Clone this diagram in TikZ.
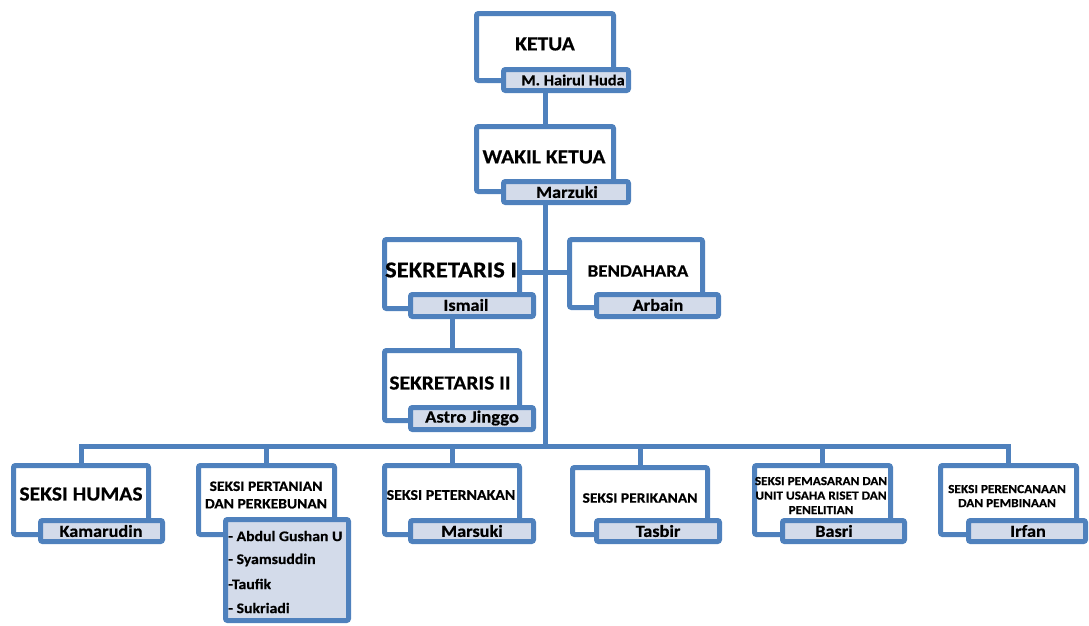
\documentclass[tikz,border=0pt]{standalone}
\usepackage{fontspec}
\setmainfont{Carlito}[FakeStretch=1.08, BoldFeatures={FakeStretch=1.08, FakeBold=0.5}]
\usetikzlibrary{fit,backgrounds}
\definecolor{blu}{RGB}{79,129,189}
\definecolor{namefill}{RGB}{211,219,234}
\tikzset{
  mainbox/.style={draw=blu, line width=5pt, fill=white, rounded corners=2pt, inner sep=0pt},
  namebox/.style={draw=blu, line width=5pt, fill=namefill, rounded corners=2pt, inner sep=0pt},
  conn/.style={draw=blu, line width=5pt},
  ttl/.style={font=\bfseries, inner sep=0pt, align=center},
  nm/.style={font=\bfseries\fontsize{16.9}{18}\selectfont, inner sep=0pt},
}
\begin{document}
\begin{tikzpicture}[x=1pt,y=-1pt]
\useasboundingbox (0,0) rectangle (1089,625);
% main boxes (centerlines = outer edges inset by 2.5)
\node[mainbox, fit={(476.5,13.5)(613.5,80.5)}] (k) {};
\node[mainbox, fit={(476.5,126.5)(613.5,191.5)}] (w) {};
\node[mainbox, fit={(384.5,239.5)(519.5,308.5)}] (s1) {};
\node[mainbox, fit={(569.5,239.5)(702.5,307.5)}] (bd) {};
\node[mainbox, fit={(384.5,350.5)(519.5,420.5)}] (s2) {};
\node[mainbox, fit={(13.5,465.5)(148.5,534.5)}] (hu) {};
\node[mainbox, fit={(198.5,465.5)(334.5,534.5)}] (pt) {};
\node[mainbox, fit={(384.5,465.5)(519.5,534.5)}] (pk) {};
\node[mainbox, fit={(572.5,467.5)(707.5,534.5)}] (pi) {};
\node[mainbox, fit={(754.5,465.5)(890.5,534.5)}] (pm) {};
\node[mainbox, fit={(940.5,465.5)(1076.5,534.5)}] (pr) {};
% name boxes
\node[namebox, fit={(503.5,69.5)(628.5,90.5)}] (kn) {};
\node[namebox, fit={(503.5,181.5)(628.5,202.5)}] (wn) {};
\node[namebox, fit={(410.5,294.5)(533.5,316.5)}] (s1n) {};
\node[namebox, fit={(596.5,294.5)(718.5,316.5)}] (bdn) {};
\node[namebox, fit={(410.5,407.5)(533.5,429.5)}] (s2n) {};
\node[namebox, fit={(40.5,520.5)(162.5,541.5)}] (hun) {};
\node[namebox, fit={(225.5,519.5)(348.5,620.5)}] (ptn) {};
\node[namebox, fit={(410.5,520.5)(533.5,541.5)}] (pkn) {};
\node[namebox, fit={(596.5,520.5)(719.5,541.5)}] (pin) {};
\node[namebox, fit={(782.5,520.5)(904.5,541.5)}] (pmn) {};
\node[namebox, fit={(968.5,520.5)(1085.5,541.5)}] (prn) {};
% connectors
\coordinate (bar) at (545,446);
\begin{scope}[on background layer]
\draw[conn] (k.south) -- (w.north);
\draw[conn] (w.south) -- (bar);
\draw[conn] (s1.east |- 0,272) -- (bd.west |- 0,272);
\draw[conn] (s1.south) -- (s2.north);
\draw[conn] (bar) -| (hu.north);
\draw[conn] (bar) -| (pt.north);
\draw[conn] (bar) -| (pk.north);
\draw[conn] (bar) -| (pi.north);
\draw[conn] (bar) -| (pm.north);
\draw[conn] (bar) -| (pr.north);
\end{scope}
% titles
\node[ttl, font=\bfseries\fontsize{20}{22}\selectfont] (kt) at (545,44) {KETUA};
\node[ttl, font=\bfseries\fontsize{20}{22}\selectfont] (wt) at (544,157) {WAKIL KETUA};
\node[ttl, font=\bfseries\fontsize{22.7}{24}\selectfont] (s1t) at (451,270) {SEKRETARIS I};
\node[ttl, font=\bfseries\fontsize{17.5}{19}\selectfont] (bdt) at (638,271) {BENDAHARA};
\node[ttl, font=\bfseries\fontsize{19.9}{22}\selectfont] (s2t) at (450,383) {SEKRETARIS II};
\node[ttl, font=\bfseries\fontsize{20}{22}\selectfont] (hut) at (81,494) {SEKSI HUMAS};
\node[ttl, font=\bfseries\fontsize{14.4}{17.5}\selectfont] (ptt) at (266,495) {SEKSI PERTANIAN\\DAN PERKEBUNAN};
\node[ttl, font=\bfseries\fontsize{14.7}{16}\selectfont] (pkt) at (451,495) {SEKSI PETERNAKAN};
\node[ttl, font=\bfseries\fontsize{14.4}{16}\selectfont] (pit) at (640,498) {SEKSI PERIKANAN};
\node[ttl, font=\bfseries\fontsize{12.3}{14.5}\selectfont] (pmt) at (821,495.5) {SEKSI PEMASARAN DAN\\UNIT USAHA RISET DAN\\PENELITIAN};
\node[ttl, font=\bfseries\fontsize{12.3}{14}\selectfont] (prt) at (1007,496) {SEKSI PERENCANAAN\\DAN PEMBINAAN};
% names
\node[nm, font=\bfseries\fontsize{15.2}{16}\selectfont] (knt) at (573,80) {M. Hairul Huda};
\node[nm] (wnt) at (567,192) {Marzuki};
\node[nm] (s1nt) at (466,305) {Ismail};
\node[nm] (bdnt) at (658,305) {Arbain};
\node[nm, font=\bfseries\fontsize{17.2}{18}\selectfont] (s2nt) at (472,418) {Astro Jinggo};
\node[nm] (hunt) at (101,531) {Kamarudin};
\node[nm] (pknt) at (472,531) {Marsuki};
\node[nm] (pint) at (658,531) {Tasbir};
\node[nm] (pmnt) at (834,531) {Basri};
\node[nm] (prnt) at (1028,531) {Irfan};
\node[nm, font=\bfseries\fontsize{14.6}{16}\selectfont, anchor=west] (m1) at (228,536) {- Abdul Gushan U};
\node[nm, font=\bfseries\fontsize{14.6}{16}\selectfont, anchor=west] (m2) at (228,560) {- Syamsuddin};
\node[nm, font=\bfseries\fontsize{14.6}{16}\selectfont, anchor=west] (m3) at (228,584) {-Taufik};
\node[nm, font=\bfseries\fontsize{14.6}{16}\selectfont, anchor=west] (m4) at (228,608) {- Sukriadi};
\end{tikzpicture}
\end{document}
